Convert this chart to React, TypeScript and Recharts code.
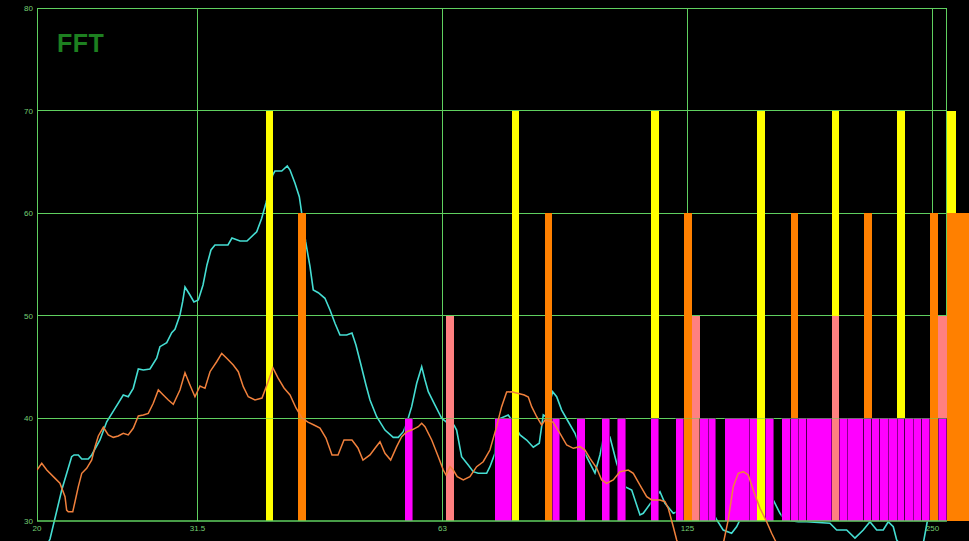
import React from 'react';
import { ComposedChart, Line, XAxis, YAxis, ReferenceLine, ReferenceArea } from 'recharts';

// ---- data ----
const cyanFreq = [20.4, 20.75, 21.45, 22.06, 22.21, 22.48, 22.7, 23.12, 23.35, 23.9, 24.36, 24.94, 25.53, 25.89, 26.26, 26.64, 27.02, 27.53, 28.06, 28.32, 28.87, 29.28, 29.55, 29.97, 30.2, 30.4, 30.83, 31.18, 31.57, 31.99, 32.35, 32.72, 33.09, 33.75, 34.33, 34.72, 35.52, 36.23, 37.24, 37.77, 38.23, 38.96, 39.21, 39.97, 40.6, 40.92, 41.5, 42.01, 42.29, 42.77, 43.3, 43.7, 44.33, 45.17, 45.82, 46.47, 47.13, 48.03, 48.76, 49.31, 50.02, 50.73, 51.31, 52.29, 53.53, 54.8, 55.58, 56.38, 56.92, 57.73, 58.56, 59.39, 59.95, 60.51, 61.67, 62.85, 63.62, 65.07, 65.56, 66.49, 67.75, 68.71, 69.69, 71.37, 72.04, 73.07, 73.41, 75.86, 76.61, 78.43, 79.93, 81.44, 82.83, 83.78, 84.42, 86.03, 87.01, 88.25, 89.92, 91.64, 92.94, 94.26, 95.61, 96.97, 98.35, 99.75, 101.17, 103.11, 105.56, 107.59, 110.14, 111.17, 113.84, 116.55, 118.21, 121.02, 123.93, 126.88, 130.51, 133.61, 136.86, 139.38, 142.73, 144.77, 146.12, 150.32, 155.95, 160.59, 163.66, 165.99, 172.36, 176.51, 188.53, 192.14, 197.65, 202.35, 207.16, 211.12, 215.18, 219.22, 222.34, 225.51, 227.69, 233.09, 239.79, 244.37, 247.86, 250.17, 253.75, 261.03];
const cyanLevel = [27.0, 28.24, 33.02, 36.27, 36.44, 36.44, 36.05, 36.05, 36.44, 37.9, 39.68, 40.99, 42.29, 42.12, 42.94, 44.82, 44.73, 44.82, 45.87, 47.0, 47.39, 48.36, 48.69, 50.09, 51.39, 52.82, 52.04, 51.36, 51.55, 53.02, 54.97, 56.43, 56.92, 56.92, 56.92, 57.6, 57.31, 57.31, 58.21, 59.52, 61.01, 63.74, 64.13, 64.13, 64.62, 64.23, 62.93, 61.63, 60.04, 57.24, 54.8, 52.53, 52.26, 51.72, 50.58, 49.28, 48.14, 48.14, 48.33, 47.16, 45.21, 43.26, 41.8, 40.17, 38.87, 38.16, 38.16, 38.71, 39.53, 41.15, 43.43, 45.05, 43.75, 42.61, 41.31, 40.02, 39.68, 39.36, 38.87, 36.27, 35.46, 34.81, 34.65, 34.65, 35.3, 36.6, 39.85, 40.34, 39.85, 38.39, 37.9, 37.19, 37.58, 40.34, 40.17, 42.61, 42.12, 40.82, 39.68, 38.55, 37.25, 36.6, 35.63, 34.68, 36.44, 38.87, 38.19, 35.63, 33.35, 33.02, 30.59, 30.75, 31.88, 32.86, 31.73, 30.75, 31.07, 30.49, 30.1, 31.85, 30.1, 29.12, 28.8, 29.44, 30.1, 32.54, 32.73, 32.05, 30.75, 30.1, 29.93, 29.93, 29.78, 29.12, 29.12, 28.34, 29.12, 29.93, 29.12, 29.12, 29.93, 29.44, 28.15, 27.17, 26.68, 26.98, 29.61, 31.46, 32.54, 32.83];

const orangeFreq = [20.0, 20.27, 20.56, 21.05, 21.34, 21.65, 21.75, 21.85, 22.13, 22.27, 22.48, 22.7, 23.02, 23.35, 23.57, 23.79, 24.13, 24.47, 24.82, 25.17, 25.53, 25.89, 26.26, 26.64, 27.02, 27.4, 27.79, 28.19, 28.59, 29.0, 29.41, 29.97, 30.4, 30.83, 31.27, 31.72, 32.17, 32.63, 33.25, 33.73, 34.21, 34.85, 35.35, 35.85, 36.36, 37.06, 37.8, 38.45, 38.99, 39.55, 40.23, 40.92, 41.62, 42.33, 43.05, 43.79, 44.54, 45.3, 46.08, 46.87, 47.67, 48.76, 49.59, 50.3, 51.31, 52.04, 52.78, 53.53, 54.4, 55.33, 56.12, 56.92, 57.73, 58.27, 58.82, 59.39, 59.95, 61.1, 62.25, 63.13, 63.62, 64.34, 64.94, 65.67, 66.81, 68.07, 69.38, 70.68, 72.04, 73.41, 74.46, 75.53, 76.61, 77.92, 79.39, 80.3, 81.07, 82.23, 83.4, 84.18, 86.11, 87.83, 89.51, 91.2, 92.94, 94.26, 95.61, 97.44, 98.83, 100.23, 102.12, 104.08, 106.55, 108.07, 110.14, 112.25, 113.84, 116.55, 118.21, 119.32, 121.02, 122.19, 125.09, 130.51, 136.15, 139.29, 141.37, 143.4, 145.45, 147.52, 149.62, 151.75, 154.66, 157.62, 159.86, 161.36, 165.99, 183.27, 217.18, 261.03];
const orangeLevel = [34.97, 35.63, 34.97, 34.16, 33.68, 32.37, 31.07, 30.91, 30.91, 31.88, 33.35, 34.65, 35.14, 35.95, 37.25, 38.29, 39.14, 38.39, 38.16, 38.29, 38.55, 38.39, 39.04, 40.24, 40.34, 40.5, 41.48, 42.78, 42.29, 41.8, 41.38, 42.78, 44.46, 43.26, 42.12, 43.17, 42.94, 44.56, 45.53, 46.35, 45.87, 45.21, 44.56, 43.1, 42.12, 41.8, 41.99, 43.56, 44.92, 43.95, 42.97, 42.29, 41.02, 40.04, 39.65, 39.36, 39.07, 38.09, 36.44, 36.44, 37.9, 37.9, 37.12, 35.95, 36.44, 37.09, 37.73, 36.6, 35.95, 37.25, 38.22, 38.71, 38.87, 39.04, 39.2, 39.53, 39.2, 37.9, 36.27, 34.97, 34.49, 35.3, 34.97, 34.32, 34.0, 34.32, 35.3, 35.78, 36.92, 39.2, 41.15, 42.58, 42.61, 42.45, 42.29, 42.09, 41.15, 40.17, 39.36, 39.85, 39.65, 38.55, 37.41, 37.09, 37.25, 36.92, 36.11, 35.17, 34.0, 33.68, 34.0, 34.81, 34.97, 34.65, 33.51, 32.37, 32.05, 32.05, 31.88, 31.24, 29.44, 28.15, 26.2, 24.73, 25.71, 27.66, 30.1, 33.35, 34.65, 34.81, 34.49, 33.02, 31.24, 29.93, 28.8, 28.15, 26.2, 24.73, 25.03, 25.22];

// bands: lower edge, upper edge (Hz) and level (dB), drawn in this order
const barLow = [38.23, 41.89, 56.65, 63.62, 73.07, 76.61, 84.18, 85.99, 92.16, 98.83, 103.34, 113.62, 113.62, 121.94, 124.73, 127.59, 130.51, 133.61, 140.08, 150.04, 153.48, 157.08, 164.45, 168.7, 168.7, 172.36, 176.51, 189.6, 189.6, 193.56, 197.99, 207.57, 207.57, 212.14, 217.18, 222.34, 228.07, 228.07, 233.09, 238.63, 244.37, 250.17, 256.13, 256.13, 262.5, 262.5];
const barHigh = [38.99, 42.77, 57.94, 65.07, 76.61, 78.21, 85.99, 87.83, 94.4, 101.17, 105.86, 116.22, 116.22, 124.73, 127.59, 130.51, 133.61, 136.56, 150.04, 153.48, 157.08, 160.91, 168.7, 172.36, 172.36, 176.51, 189.6, 193.56, 193.56, 197.99, 207.57, 212.14, 212.14, 217.18, 222.34, 228.07, 233.09, 233.09, 238.63, 244.37, 250.17, 256.13, 262.29, 262.29, 269.29, 279.4];
const barLevel = [70, 60, 40, 50, 40, 70, 60, 40, 40, 40, 40, 70, 40, 40, 60, 50, 40, 40, 40, 40, 70, 40, 40, 60, 40, 40, 40, 70, 50, 40, 40, 60, 40, 40, 40, 40, 70, 40, 40, 40, 40, 60, 50, 40, 70, 60];

// octave grid lines (exact positions) and their nominal labels
const xTickValues = [20, 31.5, 63, 126, 252];
const xTickLabels = ['20', '31.5', '63', '125', '250'];
const yTicks = [30, 40, 50, 60, 70, 80];

const freqMin = 20;
const freqMax = 279.4;
const plotEdgeFreq = 262.5;
const levelMin = 28.05;
const levelMax = 80;
const baseLevel = 30;

// ---- styles ----
const GRID = '#5fd05f';
const TICK_TEXT = '#74cf74';
const LEVEL_COLORS: Record<number, string> = {
  70: '#ffff00',
  60: '#ff8000',
  50: '#ff8080',
  40: '#ff00ff',
};

export default function App() {
  const cyanData = cyanFreq.map((f, i) => ({ f, v: cyanLevel[i] }));
  const orangeData = orangeFreq.map((f, i) => ({ f, v: orangeLevel[i] }));
  const font = '"Liberation Sans", Arial, sans-serif';

  return (
    <div
      style={{
        position: 'absolute',
        left: 0,
        top: 0,
        width: 969,
        height: 541,
        background: '#000',
        overflow: 'hidden',
        fontFamily: font,
      }}
    >
      <ComposedChart width={969} height={541} margin={{ top: 8.3, right: 0, bottom: 0, left: 0 }}>
        <XAxis
          type="number"
          dataKey="f"
          scale="log"
          domain={[freqMin, freqMax]}
          allowDataOverflow
          hide
        />
        <YAxis
          type="number"
          domain={[levelMin, levelMax]}
          allowDataOverflow
          ticks={yTicks}
          interval={0}
          width={37}
          axisLine={false}
          tickLine={false}
          tickSize={0}
          tickMargin={4}
          tick={{ fill: TICK_TEXT, fontSize: 8, fontFamily: font }}
        />

        {yTicks
          .filter((t) => t !== baseLevel)
          .map((t) => (
            <ReferenceLine
              key={'h' + t}
              segment={[
                { x: freqMin, y: t },
                { x: plotEdgeFreq, y: t },
              ]}
              stroke={GRID}
              strokeWidth={1}
              shapeRendering="crispEdges"
              zIndex={1}
            />
          ))}
        {xTickValues.map((f, i) => (
          <ReferenceLine
            key={'v' + f}
            segment={[
              { x: f, y: baseLevel },
              { x: f, y: levelMax },
            ]}
            stroke={GRID}
            strokeWidth={1}
            shapeRendering="crispEdges"
            zIndex={1}
            label={{
              value: xTickLabels[i],
              position: 'bottom',
              offset: 4,
              fill: TICK_TEXT,
              fontSize: 8,
              fontFamily: font,
            }}
          />
        ))}
        <ReferenceLine
          segment={[
            { x: plotEdgeFreq, y: baseLevel },
            { x: plotEdgeFreq, y: levelMax },
          ]}
          stroke={GRID}
          strokeWidth={1}
          shapeRendering="crispEdges"
          zIndex={1}
        />

        <Line
          data={cyanData}
          dataKey="v"
          type="linear"
          stroke="#45ddd2"
          strokeWidth={1.6}
          dot={false}
          activeDot={false}
          isAnimationActive={false}
          zIndex={2}
        />

        {barLow.map((lo, i) => (
          <ReferenceArea
            key={'b' + i}
            x1={lo}
            x2={barHigh[i]}
            y1={baseLevel}
            y2={barLevel[i]}
            fill={LEVEL_COLORS[barLevel[i]]}
            fillOpacity={1}
            stroke={barLevel[i] === 40 ? 'rgba(0,0,0,0.5)' : 'none'}
            strokeWidth={0.9}
            shapeRendering="crispEdges"
            ifOverflow="visible"
            zIndex={3}
          />
        ))}

        <ReferenceLine
          segment={[
            { x: freqMin, y: 40 },
            { x: plotEdgeFreq, y: 40 },
          ]}
          stroke={GRID}
          strokeOpacity={0.5}
          strokeWidth={1}
          shapeRendering="crispEdges"
          zIndex={4}
        />
        <ReferenceLine
          segment={[
            { x: freqMin, y: baseLevel },
            { x: plotEdgeFreq, y: baseLevel },
          ]}
          stroke={GRID}
          strokeWidth={1.5}
          zIndex={4}
        />

        <Line
          data={orangeData}
          dataKey="v"
          type="linear"
          stroke="#f0803c"
          strokeWidth={1.5}
          dot={false}
          activeDot={false}
          isAnimationActive={false}
          zIndex={5}
        />
      </ComposedChart>
      <div
        style={{
          position: 'absolute',
          left: 57,
          top: 31,
          fontSize: 25,
          lineHeight: '25px',
          fontWeight: 'bold',
          letterSpacing: 0.5,
          color: '#1d8020',
          fontFamily: font,
        }}
      >
        FFT
      </div>
    </div>
  );
}
